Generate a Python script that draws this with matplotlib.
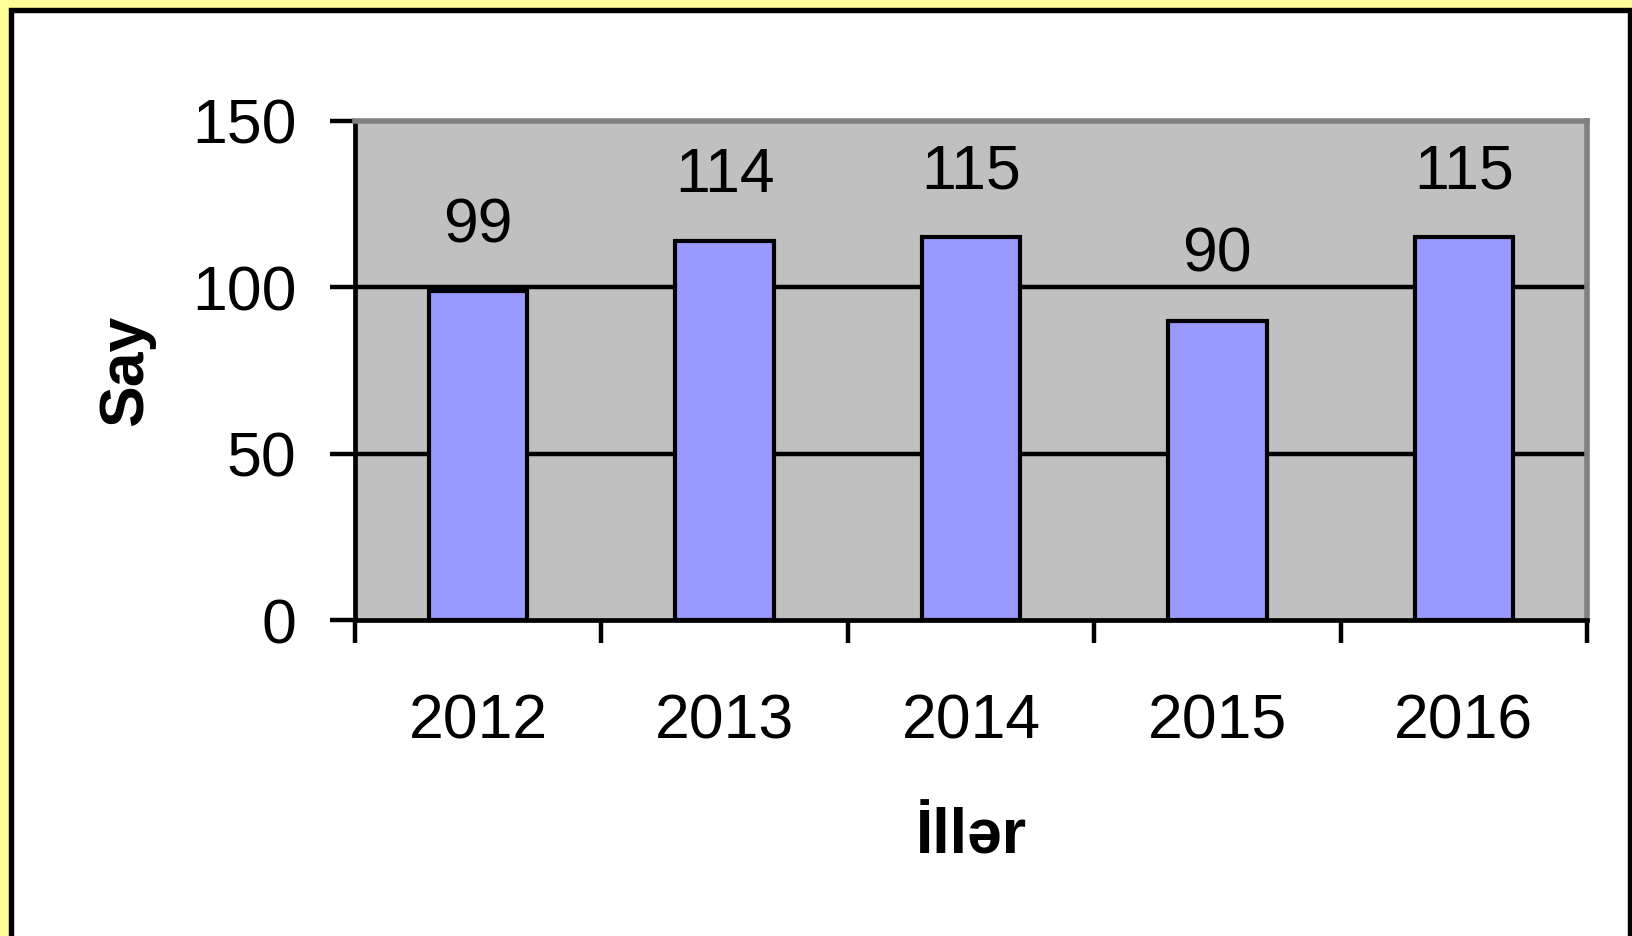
import matplotlib
matplotlib.use('Agg')
import matplotlib.pyplot as plt
from matplotlib.patches import Rectangle

plt.rcParams['font.family'] = ['Liberation Sans', 'DejaVu Sans']

years = ['2012', '2013', '2014', '2015', '2016']
counts = [99, 114, 115, 90, 115]
yticks = [0, 50, 100, 150]

fig = plt.figure(figsize=(16.33, 9.36), dpi=100, facecolor='#FFFF99')

# white panel with black frame (bottom edge runs off the picture)
frame = Rectangle((11 / 1633, -12 / 936), 1619.5 / 1633, 938.5 / 936,
                  transform=fig.transFigure, facecolor='white',
                  edgecolor='black', linewidth=3.9, zorder=-1)
fig.patches.append(frame)

ax = fig.add_axes([355 / 1633, 316 / 936, 1232 / 1633, 499 / 936])
ax.set_zorder(2)
ax.set_facecolor('#C0C0C0')

x = range(len(years))
ax.bar(x, counts, width=0.40, color='#9999FF', edgecolor='black',
       linewidth=3.0, zorder=3)

for i, v in enumerate(counts):
    ax.annotate(str(v), (i, v), xytext=(0, 35), textcoords='offset points',
                ha='center', va='baseline', fontsize=45)

ax.set_xlim(-0.5, len(years) - 0.5)
ax.set_ylim(0, 150)
ax.set_yticks(yticks)
ax.set_yticklabels([str(t) for t in yticks], fontsize=45)
ax.set_xticks(list(x))
ax.set_xticklabels(years, fontsize=45)
ax.set_xticks([i - 0.5 for i in range(len(years) + 1)], minor=True)

ax.tick_params(axis='y', length=18, width=3.2, pad=24, direction='out')
ax.tick_params(axis='x', which='major', length=0, pad=52)
ax.tick_params(axis='x', which='minor', length=16.5, width=3.2, direction='out')

for g in [50, 100]:
    ax.axhline(g, color='black', linewidth=3.2, zorder=1)

ax.spines['left'].set_linewidth(3.4)
ax.spines['bottom'].set_linewidth(3.4)
ax.spines['top'].set_color('#808080')
ax.spines['right'].set_color('#808080')
ax.spines['top'].set_linewidth(4)
ax.spines['right'].set_linewidth(4)
for s in ax.spines.values():
    s.set_zorder(4)

ax.set_xlabel('İllər', fontsize=45, fontweight='bold', va='baseline')
ax.xaxis.set_label_coords(0.5, -0.467)
ax.set_ylabel('Say', fontsize=45, fontweight='bold', va='center', ha='center')
ax.yaxis.set_label_coords(-0.186, 0.5)

fig.savefig('out.png', dpi=100, facecolor=fig.get_facecolor())
